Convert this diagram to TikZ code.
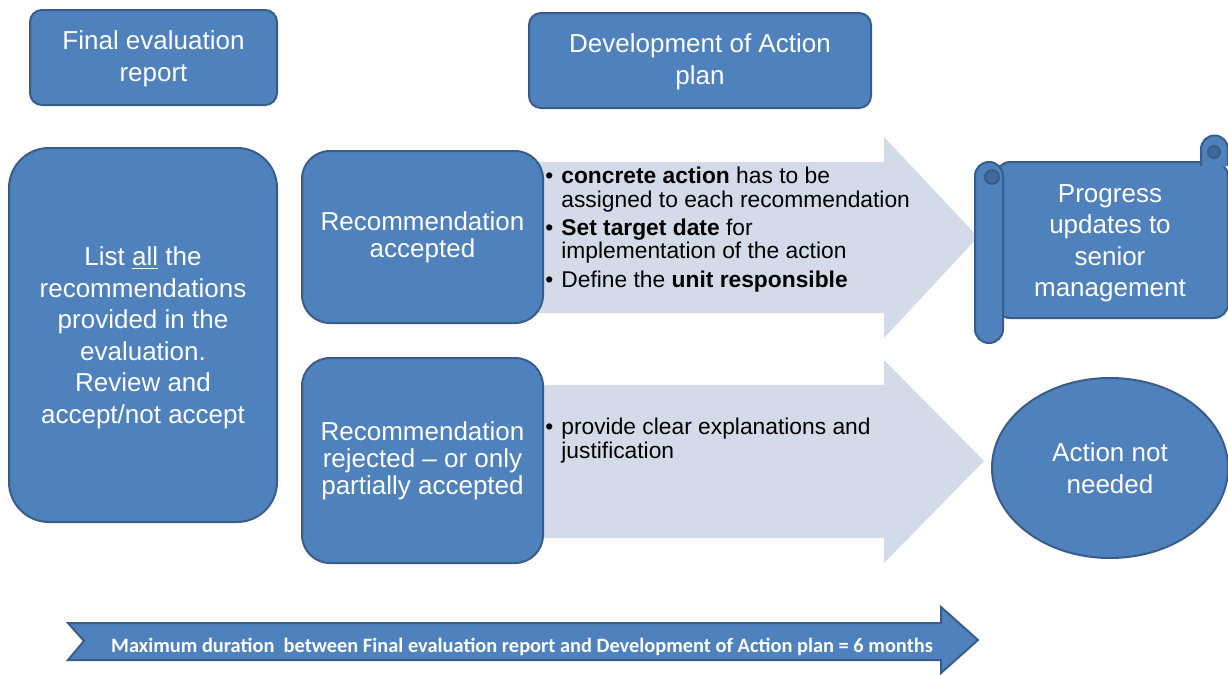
\documentclass[tikz,border=0pt]{standalone}
\usepackage{fontspec}
\setmainfont{Liberation Sans}
\newfontfamily\calibrifont{Carlito}
\usetikzlibrary{shapes.geometric}
\definecolor{boxblue}{RGB}{79,129,189}
\definecolor{boxline}{RGB}{56,93,138}
\definecolor{arrowgrey}{RGB}{211,218,232}
\definecolor{curlblue}{RGB}{64,105,155}

\begin{document}
\begin{tikzpicture}[x=0.5pt,y=-0.5pt,
  bluebox/.style={draw=boxline,line width=1pt,fill=boxblue,text=white,rounded corners=6pt,align=center,inner sep=0pt,font=\fontsize{13}{16}\selectfont},
  scroll/.style={draw=boxline,line width=1pt,fill=boxblue},
  steps/.style={anchor=north west,align=left,inner sep=0pt,font=\fontsize{11.4}{11.3}\selectfont}]
\useasboundingbox (0,0) rectangle (1228,675);
\fill[white] (0,0) rectangle (1228,675);
% light arrows behind the two recommendation boxes
\fill[arrowgrey] (530,162) -- (884,162) -- (884,137) -- (978,237) -- (884,338) -- (884,313) -- (530,313) -- cycle;
\fill[arrowgrey] (530,385) -- (884,385) -- (884,360) -- (984,461) -- (884,563) -- (884,538) -- (530,538) -- cycle;
% headings
\node[bluebox,minimum width=123.5pt,minimum height=47.5pt] (final) at (153.5,57.5) {\rule{0pt}{11pt}Final evaluation\\report};
\node[bluebox,minimum width=171pt,minimum height=47.5pt] (actionplan) at (700,60.5) {\rule{0pt}{11pt}Development of Action\\plan};
% boxes
\node[bluebox,rounded corners=20pt,minimum width=134pt,minimum height=187pt,font=\fontsize{13}{15.75}\selectfont] (listall) at (143,335) {\rule{0pt}{12pt}List \underline{all} the\\recommendations\\provided in the\\evaluation.\\Review and\\accept/not accept};
\node[bluebox,rounded corners=14pt,minimum width=120.5pt,minimum height=86pt,font=\fontsize{13}{13.5}\selectfont] (accepted) at (422.5,237) {\rule{0pt}{10pt}Recommendation\\accepted};
\node[bluebox,rounded corners=14pt,minimum width=120.5pt,minimum height=102.5pt,font=\fontsize{13}{13.5}\selectfont] (rejected) at (422.5,460.5) {\rule{0pt}{10pt}Recommendation\\rejected – or only\\partially accepted};
% what to do
\node[steps] (acceptsteps) at (545,167) {\begin{tabular}{@{}l@{\hspace{4pt}}l@{}}
\textbullet & \textbf{concrete action} has to be\\
 & assigned to each recommendation\\[2.5pt]
\textbullet & \textbf{Set target date} for\\
 & implementation of the action\\[2.5pt]
\textbullet & Define the \textbf{unit responsible}
\end{tabular}};
\node[steps] (rejectsteps) at (545,418) {\begin{tabular}{@{}l@{\hspace{4pt}}l@{}}
\textbullet & provide clear explanations and\\
 & justification
\end{tabular}};
% scroll
\draw[scroll,rounded corners=7pt] (996,162) -- (1228,162) -- (1228,318) -- (996,318) -- cycle;
\draw[scroll] (1201,166) -- (1201,149) arc (180:0:6.75pt) -- (1228,166);
\draw[draw=boxline,line width=1pt,fill=curlblue] (1214,152) circle (3pt);
\draw[scroll,rounded corners=6.9pt] (975,162) rectangle (1003,343);
\draw[draw=boxline,line width=1pt,fill=curlblue] (992,177) circle (3.5pt);
\node[text=white,align=center,font=\fontsize{13}{15.75}\selectfont] (progress) at (1110,243) {Progress\\updates to\\senior\\management};
\node[bluebox,ellipse,minimum width=118pt,minimum height=90pt] (notneeded) at (1110,468) {Action not\\needed};
% time line
\draw[draw=boxline,line width=1pt,fill=boxblue] (68,623) -- (941,623) -- (941,607) -- (978,640) -- (941,673) -- (941,660) -- (68,660) -- (84,641) -- cycle;
\node[text=white,font=\calibrifont\bfseries\fontsize{10.2}{12}\selectfont] (duration) at (522,647) {Maximum duration\ \ between Final evaluation report and Development of Action plan = 6 months};
\end{tikzpicture}
\end{document}
